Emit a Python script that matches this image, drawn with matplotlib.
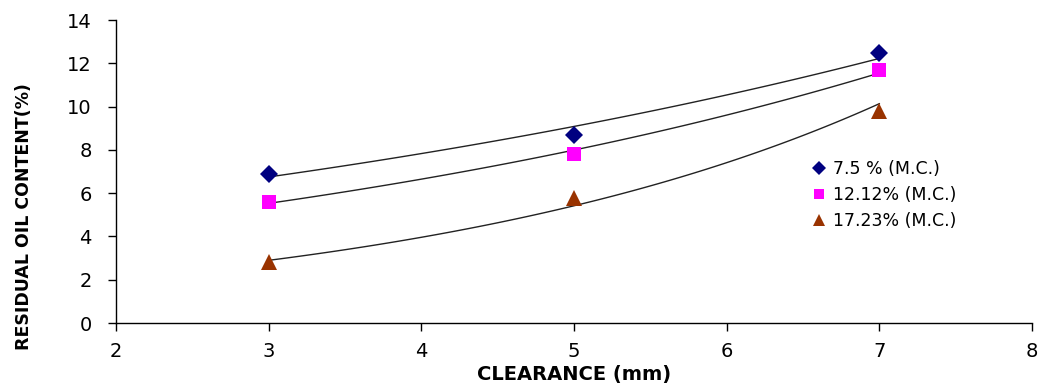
import numpy as np
import matplotlib.pyplot as plt

plt.rcParams['font.family'] = ['DejaVu Sans']

clearance = [3, 5, 7]
oil_75 = [6.9, 8.7, 12.5]
oil_1212 = [5.6, 7.8, 11.7]
oil_1723 = [2.8, 5.8, 9.8]

labels = ['7.5 % (M.C.)', '12.12% (M.C.)', '17.23% (M.C.)']
series = [oil_75, oil_1212, oil_1723]
markers = ['D', 's', '^']
colors = ['#000080', '#FF00FF', '#993300']
sizes = [9, 10, 11]

fig = plt.figure(figsize=(10.44, 3.88), dpi=100)
ax = fig.add_axes([0.111, 0.1675, 0.8775, 0.7805])

x = np.array(clearance, dtype=float)
xs = np.linspace(3, 7, 100)
for y, m, c, s, lab in zip(series, markers, colors, sizes, labels):
    # exponential trendline, like the spreadsheet one
    b, a = np.polyfit(x, np.log(y), 1)
    ax.plot(xs, np.exp(a + b * xs), color='#222222', lw=1.0, zorder=2)
    ax.plot(x, y, linestyle='none', marker=m, color=c, markersize=s,
            markeredgewidth=0, label=lab, zorder=3)

ax.set_xlim(2, 8)
ax.set_ylim(0, 14)
ax.set_xticks(range(2, 9))
ax.set_yticks(range(0, 15, 2))
for sp in ['top', 'right']:
    ax.spines[sp].set_visible(False)
for sp in ['left', 'bottom']:
    ax.spines[sp].set_linewidth(1.0)
ax.tick_params(direction='out', length=5.5, width=1, labelsize=14)
ax.tick_params(axis='y', pad=12)
ax.tick_params(axis='x', pad=8)

ax.set_xlabel('CLEARANCE (mm)', fontsize=14, fontweight='bold')
ax.set_ylabel('RESIDUAL OIL CONTENT(%)', fontsize=12.5, fontweight='bold')
ax.xaxis.set_label_coords(0.5, -0.14)
ax.yaxis.set_label_coords(-0.091, 0.35)

ax.legend(loc='upper left', bbox_to_anchor=(0.752, 0.56), frameon=False,
          fontsize=12.5, handletextpad=0.4, labelspacing=0.45,
          handlelength=0.8, borderaxespad=0, markerscale=0.75)

fig.savefig('out.png', dpi=100)
